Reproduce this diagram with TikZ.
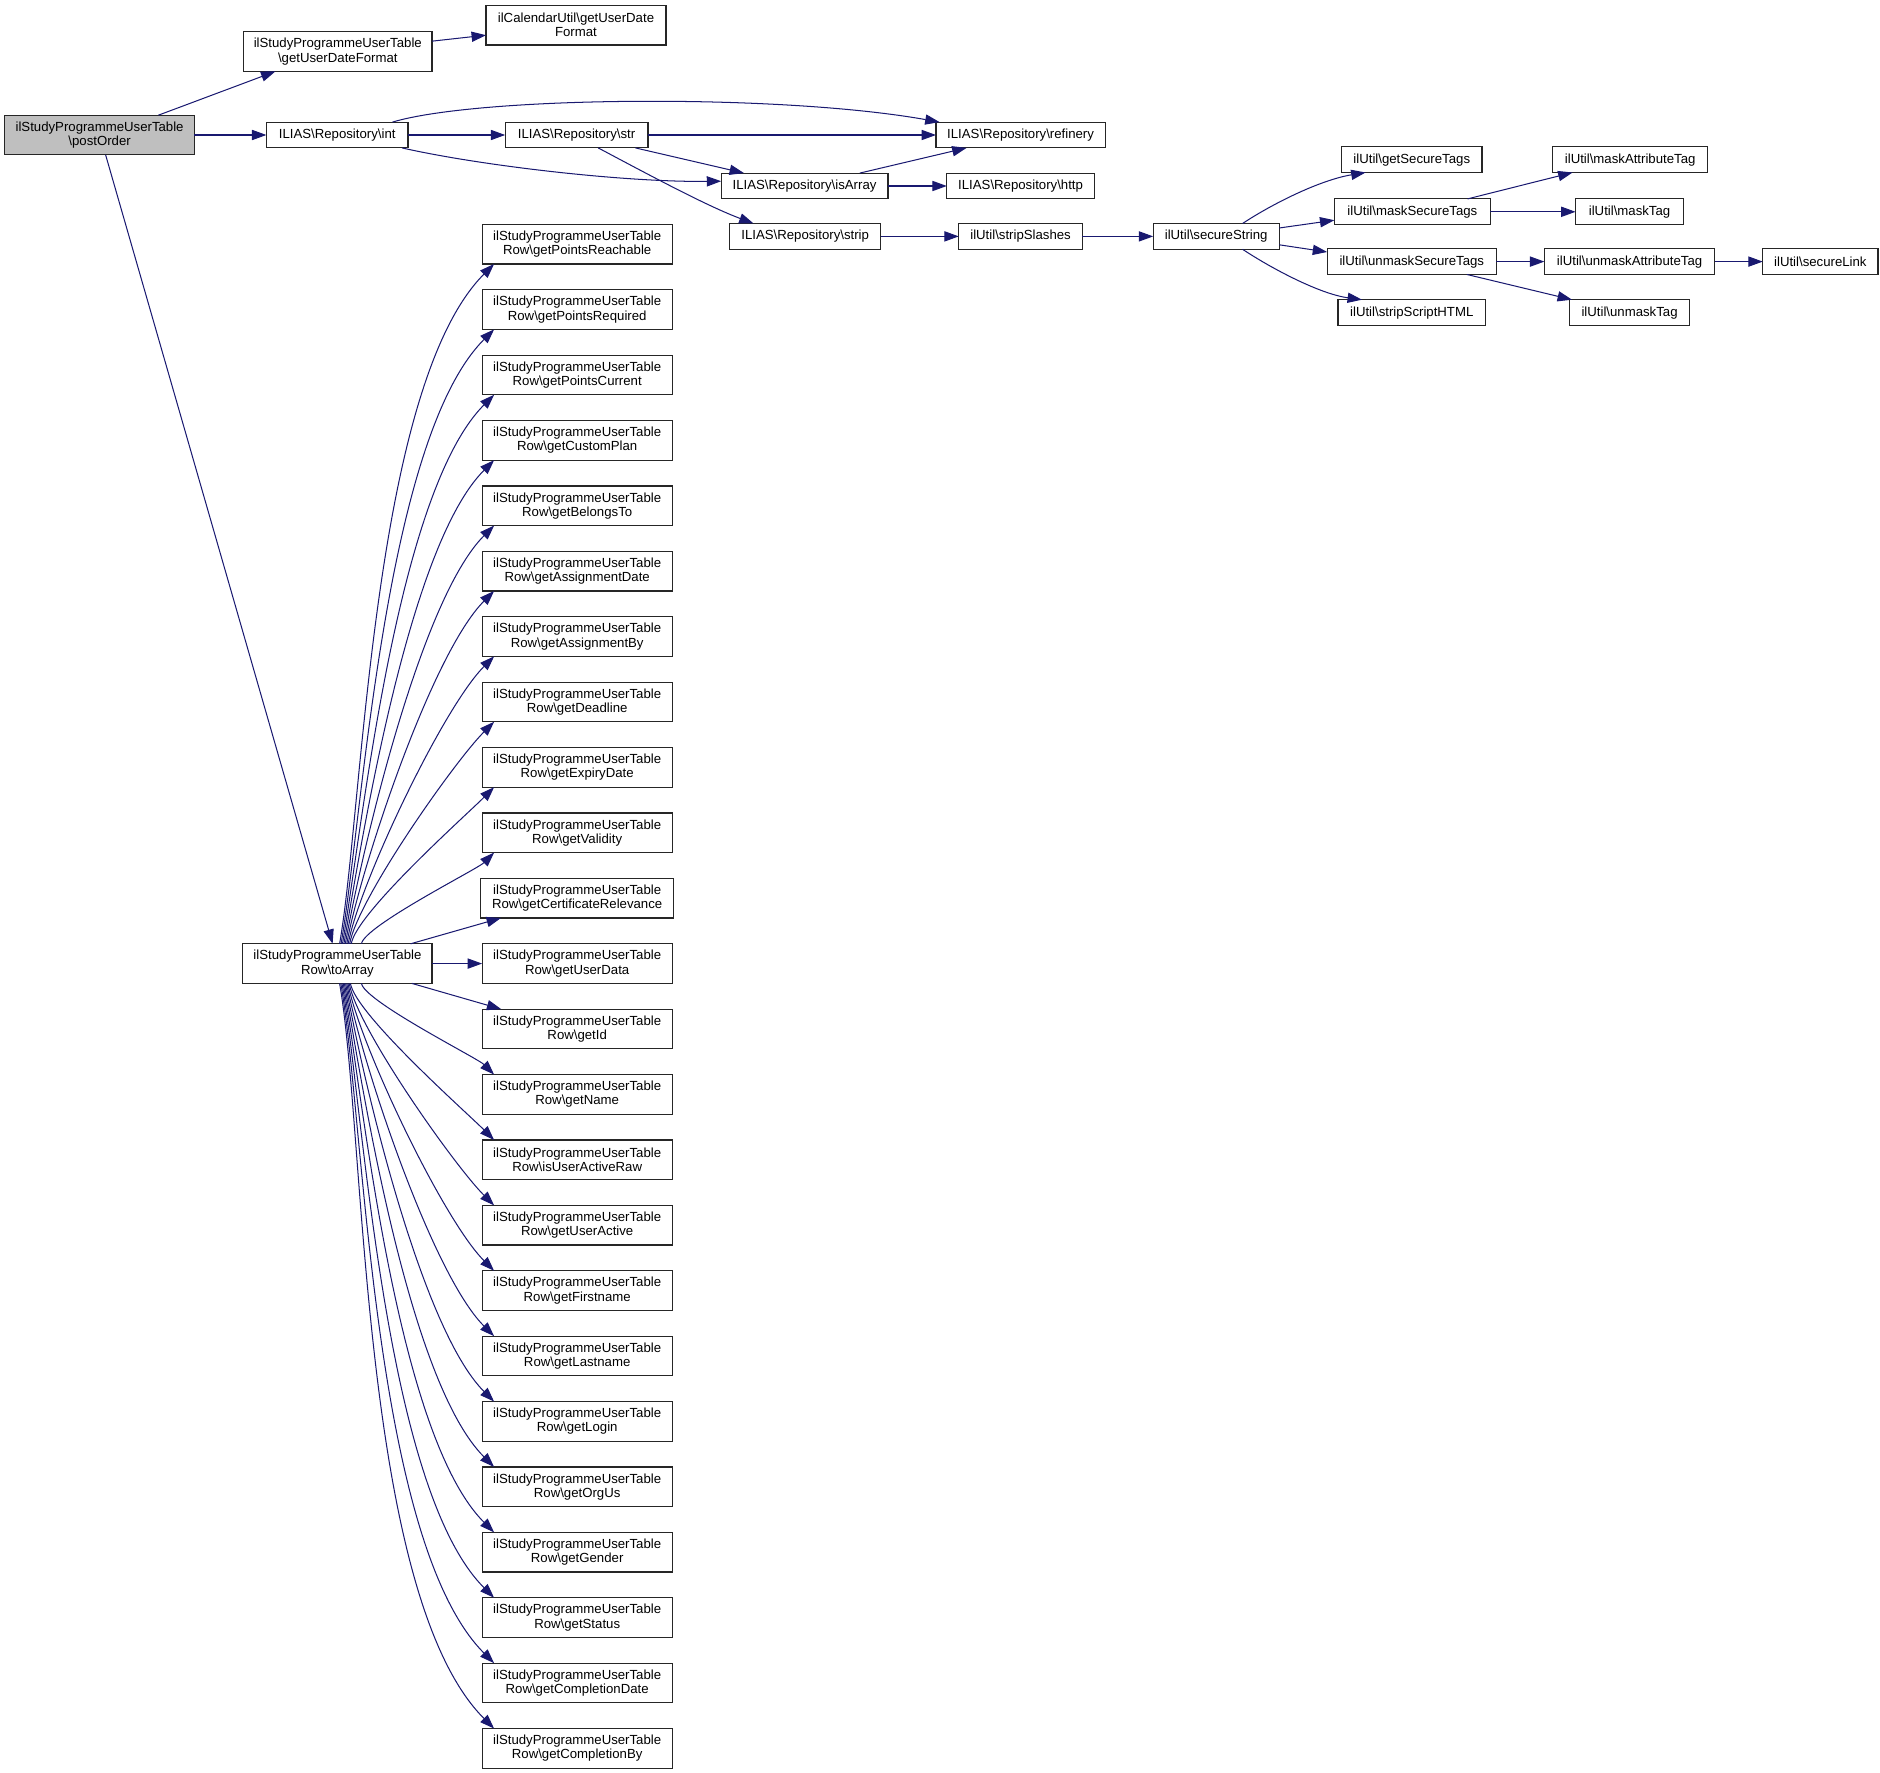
\documentclass[tikz,border=0pt]{standalone}
\usepackage{fontspec}
\setmainfont{Liberation Sans}
\usetikzlibrary{arrows.meta}
\definecolor{edgecol}{RGB}{25,25,112}
\definecolor{grayfill}{RGB}{191,191,191}
\newcommand{\myBS}{\textbackslash}
\begin{document}
\begin{tikzpicture}[x=1pt,y=-1pt,
 box/.style={draw=black!85,line width=0.9pt,fill=white,align=center,inner sep=0pt,outer sep=0pt,font=\fontsize{11}{11.7}\selectfont},
 lbox/.style={box,minimum height=21.5pt},
 tbox/.style={box,minimum height=33pt},
 e/.style={draw=edgecol,line width=0.85pt,-{Triangle[length=12pt,width=8.5pt]}}]
\useasboundingbox (0,0) rectangle (1566.7,1477.5);

% main nodes
\node[tbox,minimum width=158pt,fill=grayfill] (po) at (83,112.5) {ilStudyProgrammeUserTable\\\myBS postOrder};
\node[tbox,minimum width=157pt] (gudf) at (281.5,43) {ilStudyProgrammeUserTable\\\myBS getUserDateFormat};
\node[tbox,minimum width=150pt] (cal) at (480,21) {ilCalendarUtil\myBS getUserDate\\Format};
\node[lbox,minimum width=118pt] (int) at (281,112.5) {ILIAS\myBS Repository\myBS int};
\node[lbox,minimum width=119pt] (str) at (480.5,112.5) {ILIAS\myBS Repository\myBS str};
\node[lbox,minimum width=141pt] (ref) at (850.5,112.5) {ILIAS\myBS Repository\myBS refinery};
\node[lbox,minimum width=139pt] (isa) at (670.5,155) {ILIAS\myBS Repository\myBS isArray};
\node[lbox,minimum width=123pt] (http) at (850.5,155) {ILIAS\myBS Repository\myBS http};
\node[lbox,minimum width=126pt] (strip) at (671,197) {ILIAS\myBS Repository\myBS strip};
\node[lbox,minimum width=103pt] (ss) at (850.5,197) {ilUtil\myBS stripSlashes};
\node[lbox,minimum width=105pt] (sec) at (1013.5,197) {ilUtil\myBS secureString};
\node[lbox,minimum width=117pt] (gst) at (1176.5,133) {ilUtil\myBS getSecureTags};
\node[lbox,minimum width=130pt] (mst) at (1177,176.5) {ilUtil\myBS maskSecureTags};
\node[lbox,minimum width=141pt] (umst) at (1176.5,218) {ilUtil\myBS unmaskSecureTags};
\node[lbox,minimum width=123pt] (sst) at (1176.5,260.5) {ilUtil\myBS stripScriptHTML};
\node[lbox,minimum width=129pt] (mat) at (1358.5,133) {ilUtil\myBS maskAttributeTag};
\node[lbox,minimum width=90pt] (mtag) at (1358,176.5) {ilUtil\myBS maskTag};
\node[lbox,minimum width=142pt] (umat) at (1358,218) {ilUtil\myBS unmaskAttributeTag};
\node[lbox,minimum width=100pt] (utag) at (1358,260.5) {ilUtil\myBS unmaskTag};
\node[lbox,minimum width=96pt] (sl) at (1517,218) {ilUtil\myBS secureLink};
\node[tbox,minimum width=157.6pt] (ta) at (281.2,803) {ilStudyProgrammeUserTable\\Row\myBS toArray};

% row column
\foreach \i/\name/\w in {0/getPointsReachable/158.5,1/getPointsRequired/158.5,2/getPointsCurrent/158.5,3/getCustomPlan/158.5,4/getBelongsTo/158.5,5/getAssignmentDate/158.5,6/getAssignmentBy/158.5,7/getDeadline/158.5,8/getExpiryDate/158.5,9/getValidity/158.5,10/getCertificateRelevance/161,11/getUserData/158.5,12/getId/158.5,13/getName/158.5,14/isUserActiveRaw/158.5,15/getUserActive/158.5,16/getFirstname/158.5,17/getLastname/158.5,18/getLogin/158.5,19/getOrgUs/158.5,20/getGender/158.5,21/getStatus/158.5,22/getCompletionDate/158.5,23/getCompletionBy/158.5}
  \node[tbox,minimum width=\w pt] (r\i) at (481,203.5+54.5*\i) {ilStudyProgrammeUserTable\\Row\myBS\name};

% edges top part
\draw[e] ([xshift=49pt]po.north) -- ([xshift=-52pt]gudf.south);
\draw[e] (gudf) -- (cal);
\draw[e] (po) -- (int);
\draw[e] ([xshift=5pt]po.south) -- ([xshift=-4pt]ta.north);
\draw[e] (int) -- (str);
\draw[e] ([xshift=46pt]int.north) .. controls (400,80) and (650,78) .. ([xshift=3pt]ref.north west);
\draw[e] ([xshift=54pt]int.south) .. controls (400,138) and (520,152) .. ([yshift=4pt]isa.west);
\draw[e] (str) -- (ref);
\draw[e] ([xshift=49pt]str.south) -- ([xshift=19pt]isa.north west);
\draw[e] ([xshift=18pt]str.south) .. controls (545,148) and (590,172) .. ([xshift=20pt]strip.north west);
\draw[e] ([xshift=46pt]isa.north) -- ([xshift=-45pt]ref.south);
\draw[e] (isa) -- (http);
\draw[e] (strip) -- (ss);
\draw[e] (ss) -- (sec);
\draw[e] ([xshift=22pt]sec.north) .. controls (1060,170) and (1100,150) .. ([xshift=20pt]gst.south west);
\draw[e] ([xshift=22pt]sec.south) .. controls (1060,224) and (1100,245) .. ([xshift=20pt]sst.north west);
\draw[e] ([yshift=7pt]sec.east) -- ([yshift=-7pt]mst.west);
\draw[e] ([yshift=-7pt]sec.east) -- ([yshift=8pt]umst.west);
\draw[e] ([xshift=46pt]mst.north) -- ([xshift=-48pt]mat.south);
\draw[e] (mst) -- (mtag);
\draw[e] (umst) -- (umat);
\draw[e] ([xshift=46pt]umst.south) -- ([xshift=-48pt]utag.north);
\draw[e] (umat) -- (sl);

% fan from toArray
\foreach \i/\sx in {0/1.8,1/3,2/4.2,3/5.4,4/6.6,5/7.8,6/9,7/10.2,8/11.5,9/20}{
  \pgfmathsetmacro\dy{566-54.5*\i}
  \pgfmathsetmacro\a{0.035*\dy}
  \pgfmathsetmacro\b{0.2*\dy}
  \pgfmathsetmacro\c{0.18*\dy}
  \draw[e] ([xshift=\sx pt]ta.north) .. controls +(\a,-\b) and +(-\c,\c) .. ([xshift=10pt]r\i.south west);
}
\draw[e] ([xshift=61pt]ta.north) -- ([xshift=17pt]r10.south west);
\draw[e] (ta) -- (r11);
\draw[e] ([xshift=62pt]ta.south) -- ([xshift=16pt]r12.north west);
\foreach \i/\sx in {13/20,14/10.8,15/9.8,16/8.8,17/7.8,18/6.8,19/5.8,20/4.8,21/3.8,22/2.8,23/1.8}{
  \pgfmathsetmacro\dy{187+54.5*\i-820}
  \pgfmathsetmacro\a{0.035*\dy}
  \pgfmathsetmacro\b{0.2*\dy}
  \pgfmathsetmacro\c{0.18*\dy}
  \draw[e] ([xshift=\sx pt]ta.south) .. controls +(\a,\b) and +(-\c,-\c) .. ([xshift=10pt]r\i.north west);
}
\end{tikzpicture}
\end{document}
